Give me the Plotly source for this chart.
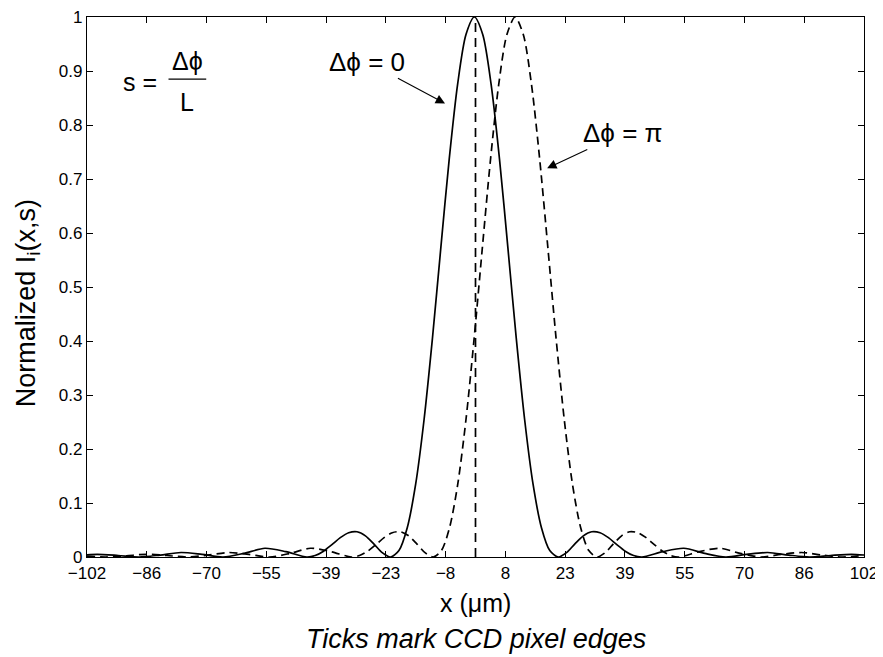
import plotly.graph_objects as go

# Solid curve: delta phi = 0
solid_x = [-102, -99.3, -93.8, -88.3, -82.8, -77.3, -71.8, -66.3, -60.8, -55.3,
           -49.8, -44.3, -42.1, -39.9, -37.7, -35.5, -33.3, -31.1, -28.9, -26.7,
           -24.5, -22.3, -20.1, -17.9, -15.7, -13.5, -11.3, -9.1, -6.9, -4.7,
           -2.5, -0.3, 1.9, 4.1, 6.3, 8.5, 10.7, 12.9, 15.1, 17.3,
           19.5, 21.7, 23.9, 26.1, 28.3, 30.5, 32.7, 34.9, 37.1, 39.3,
           41.5, 43.7, 49.2, 54.7, 60.2, 65.7, 71.2, 76.7, 82.2, 87.7,
           93.2, 98.7, 102]
solid_y = [0.0041, 0.0050, 0.0028, 0, 0.0036, 0.0083, 0.0048, 0, 0.0067, 0.0162,
           0.0100, 0, 0.0027, 0.0108, 0.0229, 0.0358, 0.0450, 0.0468, 0.0392, 0.0243,
           0.0080, 0, 0.0119, 0.0547, 0.1353, 0.2546, 0.4053, 0.5728, 0.7368, 0.8751,
           0.9675, 1.0, 0.9675, 0.8751, 0.7368, 0.5728, 0.4053, 0.2546, 0.1353, 0.0547,
           0.0119, 0, 0.0080, 0.0243, 0.0392, 0.0468, 0.0450, 0.0358, 0.0229, 0.0108,
           0.0027, 0, 0.0100, 0.0162, 0.0067, 0, 0.0048, 0.0083, 0.0036, 0,
           0.0028, 0.0050, 0.0037]

# Dashed curve: delta phi = pi
dashed_x = [-102, -97.1, -91.7, -86.35, -81.0, -75.6, -70.2, -64.85, -59.5, -54.1,
            -48.7, -43.35, -38.0, -32.6, -30.45, -28.3, -26.15, -24.0, -21.85, -19.7,
            -17.55, -15.4, -13.25, -11.1, -8.95, -6.8, -4.65, -2.5, -0.35, 1.8,
            3.95, 6.1, 8.25, 10.4, 12.55, 14.7, 16.85, 19.0, 21.15, 23.3,
            25.45, 27.6, 29.75, 31.9, 34.05, 36.2, 38.35, 40.5, 42.65, 44.8,
            46.95, 49.1, 51.25, 53.4, 58.8, 64.15, 69.5, 74.9, 80.3, 85.65,
            91.0, 96.4, 102]
dashed_y = [0.0016, 0, 0.0022, 0.0050, 0.0028, 0, 0.0036, 0.0083, 0.0048, 0,
            0.0067, 0.0162, 0.0100, 0, 0.0027, 0.0108, 0.0229, 0.0358, 0.0450, 0.0468,
            0.0392, 0.0243, 0.0080, 0, 0.0119, 0.0547, 0.1353, 0.2546, 0.4053, 0.5728,
            0.7368, 0.8751, 0.9675, 1.0, 0.9675, 0.8751, 0.7368, 0.5728, 0.4053, 0.2546,
            0.1353, 0.0547, 0.0119, 0, 0.0080, 0.0243, 0.0392, 0.0468, 0.0450, 0.0358,
            0.0229, 0.0108, 0.0027, 0, 0.0100, 0.0162, 0.0067, 0, 0.0048, 0.0083,
            0.0036, 0, 0.0030]

# Vertical dashed reference line at x = 0
vline_x = [0, 0]
vline_y = [0, 1]

# Axis ticks (CCD pixel edges)
x_tickvals = [-102, -86.31, -70.62, -54.92, -39.23, -23.54, -7.85,
              7.85, 23.54, 39.23, 54.92, 70.62, 86.31, 102]
x_ticktext = ["\u2212102", "\u221286", "\u221270", "\u221255", "\u221239", "\u221223", "\u22128",
              "8", "23", "39", "55", "70", "86", "102"]
y_tickvals = [0, 0.1, 0.2, 0.3, 0.4, 0.5, 0.6, 0.7, 0.8, 0.9, 1]
y_ticktext = ["0", "0.1", "0.2", "0.3", "0.4", "0.5", "0.6", "0.7", "0.8", "0.9", "1"]

FONT = "Liberation Sans, Arial, Helvetica, sans-serif"

fig = go.Figure()
fig.add_trace(go.Scatter(x=solid_x, y=solid_y, mode="lines",
                         line=dict(color="black", width=1.7, shape="spline", smoothing=0.8),
                         showlegend=False, hoverinfo="skip"))
fig.add_trace(go.Scatter(x=dashed_x, y=dashed_y, mode="lines",
                         line=dict(color="black", width=1.7, dash="8px,5px", shape="spline", smoothing=0.8),
                         showlegend=False, hoverinfo="skip"))
fig.add_trace(go.Scatter(x=vline_x, y=vline_y, mode="lines",
                         line=dict(color="black", width=1.7, dash="9px,6px"),
                         showlegend=False, hoverinfo="skip"))

ann = []
# s = delta phi / L
ann.append(dict(x=-88.1, y=0.88, xref="x", yref="y", text="s =", showarrow=False,
                font=dict(size=25, family=FONT, color="black")))
ann.append(dict(x=-75.7, y=0.918, xref="x", yref="y", text="\u0394\u03d5", showarrow=False,
                font=dict(size=25, family=FONT, color="black")))
ann.append(dict(x=-75.7, y=0.843, xref="x", yref="y", text="L", showarrow=False,
                font=dict(size=25, family=FONT, color="black")))
# arrows
ann.append(dict(x=-8.0, y=0.84, xref="x", yref="y", ax=-28.5, ay=0.917, axref="x", ayref="y",
                text="\u0394\u03d5 = 0", showarrow=True, arrowhead=2, arrowsize=1.7,
                arrowwidth=1.1, arrowcolor="black",
                font=dict(size=26, family=FONT, color="black")))
ann.append(dict(x=18.8, y=0.72, xref="x", yref="y", ax=38.7, ay=0.785, axref="x", ayref="y",
                text="\u0394\u03d5 = \u03c0", showarrow=True, arrowhead=2, arrowsize=1.7,
                arrowwidth=1.1, arrowcolor="black",
                font=dict(size=26, family=FONT, color="black")))
# axis titles
ann.append(dict(x=0.5, y=0, xref="paper", yref="paper", yshift=-46, yanchor="middle",
                text="x (\u03bcm)", showarrow=False,
                font=dict(size=25, family=FONT, color="black")))
ann.append(dict(x=0.5, y=0, xref="paper", yref="paper", yshift=-82, yanchor="middle",
                text="<i>Ticks mark CCD pixel edges</i>", showarrow=False,
                font=dict(size=27, family=FONT, color="black")))
ann.append(dict(x=0, y=0.47, xref="paper", yref="paper", xshift=-59, xanchor="center",
                textangle=-90, text="Normalized I<sub>i</sub>(x,s)", showarrow=False,
                font=dict(size=27, family=FONT, color="black")))

# The page body adds an 8px offset, so the figure is 8px smaller and margins shifted.
fig.update_layout(
    width=875, height=649,
    margin=dict(l=79, r=19, t=9, b=100, autoexpand=False),
    paper_bgcolor="white", plot_bgcolor="white",
    annotations=ann,
    shapes=[dict(type="line", xref="x", yref="y", x0=-80.6, x1=-70.7, y0=0.885, y1=0.885,
                 line=dict(color="black", width=1.2))],
    font=dict(family=FONT, color="black"),
)
fig.update_xaxes(range=[-102, 102], tickmode="array", tickvals=x_tickvals, ticktext=x_ticktext,
                 ticks="inside", ticklen=6, tickwidth=1, tickcolor="black", automargin=False,
                 ticklabeloverflow="allow",
                 showline=True, linecolor="black", linewidth=1.2, mirror="allticks",
                 showgrid=False, zeroline=False, tickfont=dict(size=17, family=FONT, color="black"))
fig.update_yaxes(range=[0, 1], tickmode="array", tickvals=y_tickvals, ticktext=y_ticktext,
                 ticks="inside", ticklen=6, tickwidth=1, tickcolor="black", automargin=False,
                 ticklabeloverflow="allow",
                 showline=True, linecolor="black", linewidth=1.2, mirror="allticks",
                 showgrid=False, zeroline=False, tickfont=dict(size=17, family=FONT, color="black"))

fig.write_html("out.html")
